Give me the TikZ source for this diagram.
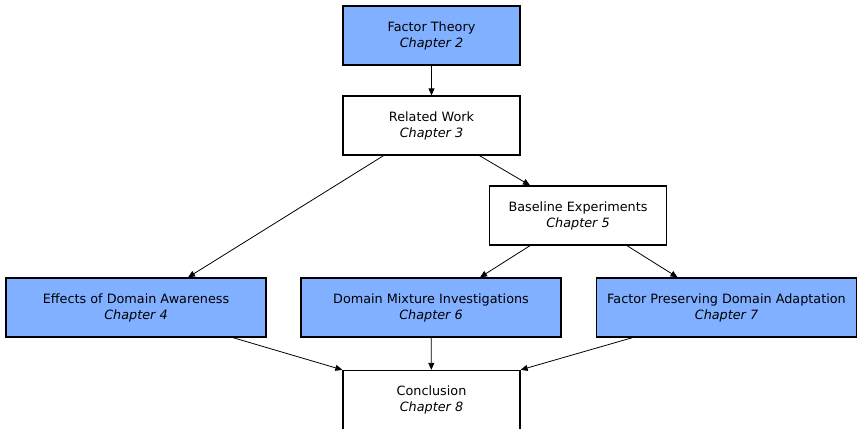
\documentclass[tikz,border=0pt]{standalone}
\usepackage{fontspec}
\setmainfont{DejaVu Sans}
\usetikzlibrary{positioning}
\usetikzlibrary{arrows.meta}
\usetikzlibrary{calc}

\definecolor{chapblue}{RGB}{128,176,255}

\begin{document}
\begin{tikzpicture}[x=1pt,y=-1pt,
	chapter/.style={draw, line width=1.3pt, align=center, minimum height=59pt, inner sep=0pt, font=\fontsize{12.8}{16}\selectfont},
	small/.style={chapter, minimum width=177pt},
	wide/.style={chapter, minimum width=260pt},
	filled/.style={fill=chapblue},
	link/.style={-{Triangle[length=7pt,width=6pt]}, line width=0.8pt}]
	\useasboundingbox (0,0) rectangle (858,428);

	% chapter boxes
	\node[small, filled] (theory) at (431.5,35.5) {Factor Theory\\\textit{Chapter 2}};
	\node[small] (related) at (431.5,125.5) {Related Work\\\textit{Chapter 3}};
	\node[small] (baseline) at (578,215.5) {Baseline Experiments\\\textit{Chapter 5}};
	\node[wide, filled] (effects) at (136,307.5) {Effects of Domain Awareness\\\textit{Chapter 4}};
	\node[wide, filled] (mixture) at (431,307.5) {Domain Mixture Investigations\\\textit{Chapter 6}};
	\node[wide, filled] (preserve) at (726.5,307.5) {Factor Preserving Domain Adaptation\\\textit{Chapter 7}};
	\node[small] (concl) at (431.5,400) {Conclusion\\\textit{Chapter 8}};

	% links between chapters
	\draw[link] (theory) -- (related);
	\draw[link] ($(related.south)+(-48,0)$) -- ($(effects.north)+(52,0)$);
	\draw[link] ($(related.south)+(48,0)$) -- ($(baseline.north)+(-48,0)$);
	\draw[link] ($(baseline.south)+(-48,0)$) -- ($(mixture.north)+(49,0)$);
	\draw[link] ($(baseline.south)+(49,0)$) -- ($(preserve.north)+(-49,0)$);
	\draw[link] ($(effects.south)+(97,0)$) -- (concl.north west);
	\draw[link] (mixture) -- (concl);
	\draw[link] ($(preserve.south)+(-94,0)$) -- (concl.north east);
\end{tikzpicture}
\end{document}
